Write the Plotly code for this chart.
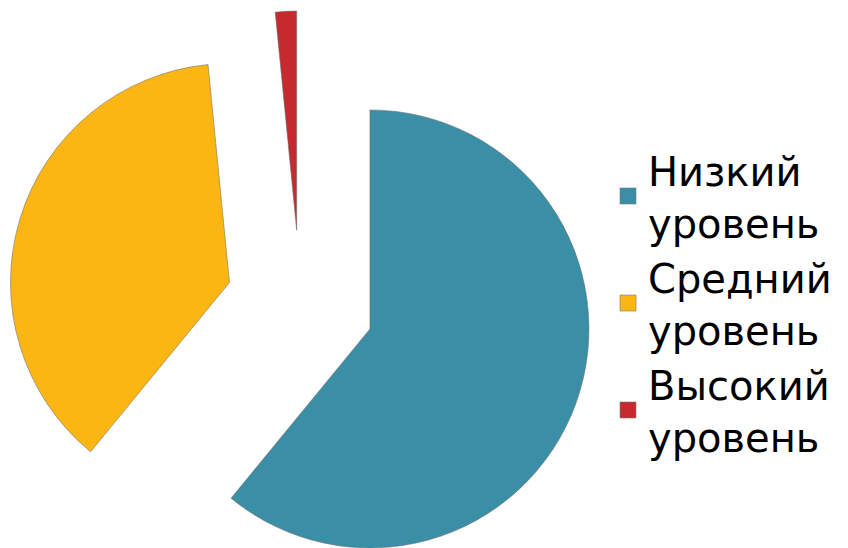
import math
import plotly.graph_objects as go

# ---- data ----
labels = ["Низкий уровень", "Средний уровень", "Высокий уровень"]
values = [39, 24, 1]
colors = ["#3A8FA7", "#FBB614", "#C6292E"]

# ---- layout constants (pixels, figure coordinates; page body adds 8px) ----
W, H = 840, 540
R = 219          # slice radius
PULL = 74        # explosion distance
CX, CY = 292.3, 296.0   # common pie centre (from top-left)

total = sum(values)
fig = go.Figure()

start = 0.0
for i, (lab, val, col) in enumerate(zip(labels, values, colors)):
    frac = val / total
    mid = (start + frac / 2) * 2 * math.pi  # clockwise from 12 o'clock
    start += frac
    cx = CX + PULL * math.sin(mid)
    cy = CY - PULL * math.cos(mid)
    x0 = max(0.0, (cx - R) / W)
    x1 = min(1.0, (cx + R) / W)
    y0 = max(0.0, (H - cy - R) / H)
    y1 = min(1.0, (H - cy + R) / H)
    mcols = [c if j == i else "rgba(0,0,0,0)" for j, c in enumerate(colors)]
    lcols = ["rgba(110,110,110,0.55)" if j == i else "rgba(0,0,0,0)" for j in range(len(colors))]
    fig.add_trace(go.Pie(
        labels=labels, values=values, sort=False, direction="clockwise", rotation=0,
        marker=dict(colors=mcols, line=dict(color=lcols, width=1)),
        textinfo="none", hoverinfo="label+percent",
        showlegend=False, domain=dict(x=[x0, x1], y=[y0, y1]),
    ))

for lab, col in zip(labels, colors):
    fig.add_trace(go.Scatter(
        x=[None], y=[None], mode="markers", name=lab.replace(" ", "<br>"),
        marker=dict(symbol="square", size=16, color=col,
                    line=dict(color="rgba(120,120,120,0.6)", width=1)),
        showlegend=True, hoverinfo="skip",
    ))

fig.update_layout(
    width=W, height=H,
    margin=dict(l=0, r=0, t=0, b=0),
    paper_bgcolor="white", plot_bgcolor="white",
    xaxis=dict(visible=False), yaxis=dict(visible=False),
    legend=dict(x=600 / W, xanchor="left", y=1 - 295 / H, yanchor="middle",
                font=dict(family="DejaVu Sans, sans-serif", size=40, color="black"),
                bgcolor="rgba(0,0,0,0)", valign="middle"),
)

fig.write_html("out.html")
